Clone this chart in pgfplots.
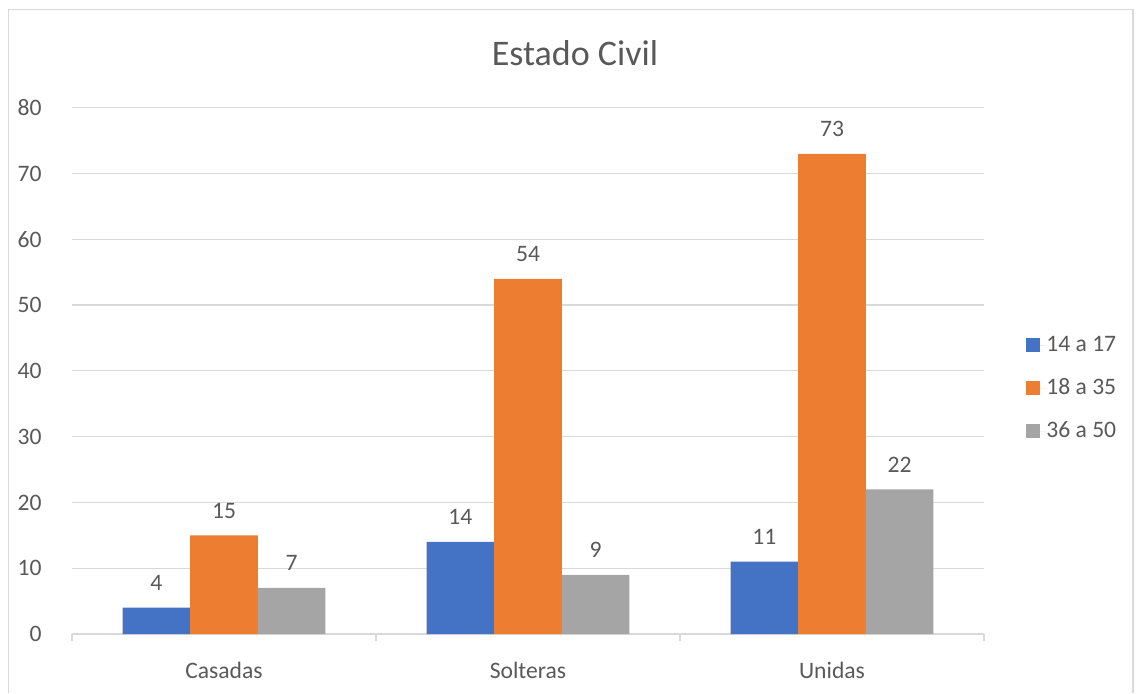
\documentclass[border=0pt]{standalone}
\usepackage{pgfplots}
\pgfplotsset{compat=1.18}
\usepackage{fontspec}
\setmainfont{Carlito}
\definecolor{cBlue}{HTML}{4472C4}
\definecolor{cOrange}{HTML}{ED7D31}
\definecolor{cGray}{HTML}{A5A5A5}
\definecolor{cGrid}{HTML}{D9D9D9}
\definecolor{cText}{HTML}{595959}
\begin{document}
\begin{tikzpicture}[x=1pt,y=1pt]
\useasboundingbox (0,0) rectangle (570.5,346.5);
\draw[cGrid, line width=0.6pt] (4.15,0) -- (4.15,341.85) -- (566.5,341.85) -- (566.5,0);
\node[anchor=base, text=cText, font=\fontsize{18}{21}\selectfont, inner sep=0pt] at (287.5,313.85) {Estado Civil};
\begin{axis}[
  at={(36pt,29.5pt)}, anchor=south west,
  scale only axis, width=456pt, height=263.15pt,
  xmin=-0.5, xmax=2.5, ymin=0, ymax=80,
  ybar=0pt, bar width=33.8pt,
  xtick={-0.5,0.5,1.5,2.5}, x tick label as interval,
  xticklabels={Casadas,Solteras,Unidas},
  ytick={0,10,...,80},
  /pgf/number format/assume math mode=true,
  font=\fontsize{11.8}{14}\selectfont,
  xticklabel style={anchor=base, yshift=-18.5pt, inner sep=0pt, text=cText},
  yticklabel style={anchor=east, xshift=-11.5pt, inner sep=0pt, text=cText},
  axis x line*=bottom, axis y line*=left,
  x axis line style={cGrid, line width=0.8pt, -},
  y axis line style={draw=none},
  xtick style={draw=cGrid, line width=0.8pt},
  tick align=outside, major tick length=3.5pt,
  ytick style={draw=none},
  ymajorgrids, grid style={cGrid, line width=0.6pt},
  nodes near coords,
  every node near coord/.append style={anchor=south, inner sep=0pt, yshift=8.3pt, text=cText, font=\fontsize{11.8}{14}\selectfont},
  legend style={at={(1.046,0.467)}, anchor=west, draw=none, fill=none, inner sep=0pt,
    row sep=10.5pt, text=cText, font=\fontsize{11.8}{14}\selectfont,
    nodes={inner sep=0pt, text height=8.5pt, text depth=2.5pt, anchor=west}},
  legend cell align=left,
  legend image code/.code={\fill[#1] (0pt,-3.5pt) rectangle (7pt,3.5pt); \path (0pt,0pt) -- (10pt,0pt);},
]
\addplot[fill=cBlue, draw=none] coordinates {(0,4) (1,14) (2,11)};
\addplot[fill=cOrange, draw=none] coordinates {(0,15) (1,54) (2,73)};
\addplot[fill=cGray, draw=none] coordinates {(0,7) (1,9) (2,22)};
\legend{14 a 17, 18 a 35, 36 a 50}
\end{axis}
\end{tikzpicture}
\end{document}
